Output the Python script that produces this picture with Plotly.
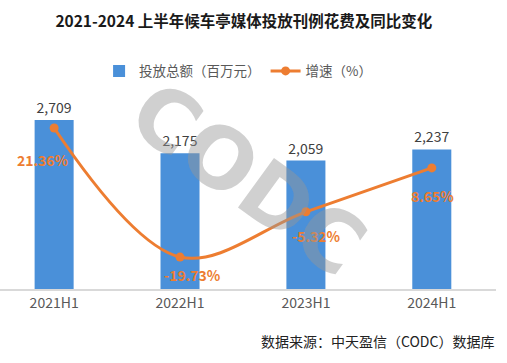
import plotly.graph_objects as go

categories = ["2021H1", "2022H1", "2023H1", "2024H1"]
spend = [2709, 2175, 2059, 2237]
growth = [21.36, -19.73, -5.32, 8.65]
spend_labels = ["2,709", "2,175", "2,059", "2,237"]
growth_labels = ["21.36%", "-19.73%", "-5.32%", "8.65%"]

FONT = "Noto Sans CJK SC"
BLUE = "#4A90D9"
ORANGE = "#ED7D31"

fig = go.Figure()
fig.add_trace(go.Bar(
    x=categories, y=spend, name="投放总额（百万元）",
    marker=dict(color=BLUE, line=dict(width=0)), width=0.31,
    text=spend_labels, textposition="outside",
    textfont=dict(family=FONT, size=14, color="#404040"),
    cliponaxis=False,
))
fig.add_trace(go.Scatter(
    x=categories, y=growth, name="增速（%）", yaxis="y2",
    mode="lines+markers",
    line=dict(color=ORANGE, width=3, shape="spline", smoothing=1.0),
    marker=dict(color=ORANGE, size=9),
))

shifts = [(-11, -32), (12, -18), (11, -24), (1, -28)]
for c, g, lab, (dx, dy) in zip(categories, growth, growth_labels, shifts):
    fig.add_annotation(x=c, y=g, yref="y2", text=f"<b>{lab}</b>", showarrow=False,
                       xshift=dx, yshift=dy,
                       font=dict(family=FONT, size=14, color=ORANGE))

# watermark
fig.add_annotation(xref="paper", yref="paper", x=0.5, y=0.41, text="<b>CODC</b>",
                   showarrow=False, textangle=36,
                   font=dict(family="DejaVu Sans", size=84, color="rgba(150,150,150,0.45)"))

fig.update_layout(
    width=507, height=363,
    margin=dict(l=0, r=11, t=20, b=74),
    paper_bgcolor="white", plot_bgcolor="white",
    title=dict(text="<b>2021-2024 上半年候车亭媒体投放刊例花费及同比变化</b>",
               x=0.481, xanchor="center", y=0.94, yanchor="middle",
               font=dict(family=FONT, size=15.5, color="#1a1a1a")),
    showlegend=True,
    legend=dict(orientation="h", x=0.48, xanchor="center", y=0.81, yanchor="middle",
                font=dict(family=FONT, size=13.5, color="#595959"),
                itemwidth=30, traceorder="normal"),
    xaxis=dict(range=[-0.43, 3.51], showgrid=False, showline=True, linecolor="#D9D9D9",
               linewidth=1.5, ticks="", tickfont=dict(family=FONT, size=14, color="#595959")),
    yaxis=dict(range=[0, 3350], visible=False, domain=[0, 0.777]),
    yaxis2=dict(range=[-29.9, 36.65], overlaying="y", visible=False),
    bargap=0.69,
)
fig.add_annotation(xref="paper", yref="paper", x=1.0, y=-0.193, xanchor="right", yanchor="middle",
                   text="数据来源：中天盈信（CODC）数据库", showarrow=False,
                   font=dict(family=FONT, size=14, color="#222222"))

fig.write_html("out.html", config={"displayModeBar": False},
               post_script="document.body.style.margin='0';document.body.style.overflow='hidden';")
